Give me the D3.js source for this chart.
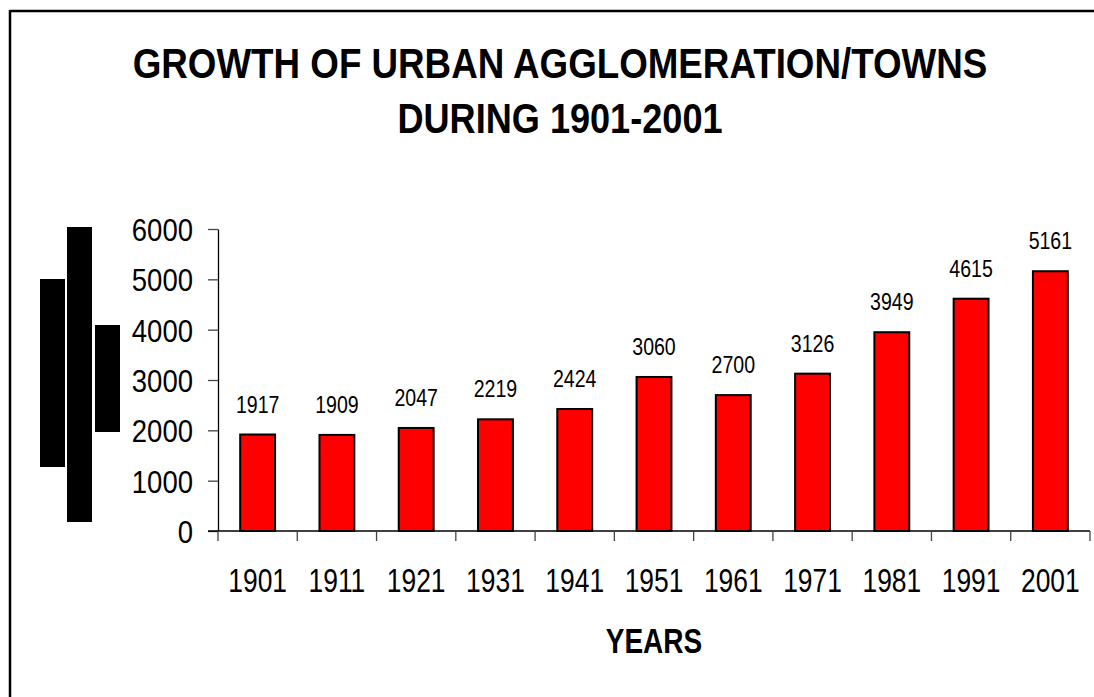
<!DOCTYPE html>
<html>
<head>
<meta charset="utf-8">
<script src="https://cdn.jsdelivr.net/npm/d3@7"></script>
<style>
  html, body { margin: 0; background: #fff; overflow: hidden; }
  svg { display: block; }
  text { font-family: "Liberation Sans", Arial, sans-serif; fill: #000; }
</style>
</head>
<body>
<div id="chart"></div>
<script>
// data
var years = ['1901', '1911', '1921', '1931', '1941', '1951', '1961', '1971', '1981', '1991', '2001'];
var towns = [1917, 1909, 2047, 2219, 2424, 3060, 2700, 3126, 3949, 4615, 5161];
var yTicks = [0, 1000, 2000, 3000, 4000, 5000, 6000];
var titleLines = ['GROWTH OF URBAN AGGLOMERATION/TOWNS', 'DURING 1901-2001'];

var W = 1094, H = 697;
var margin = {top: 229, right: 4, bottom: 166, left: 218};
var width = W - margin.left - margin.right,
    height = H - margin.top - margin.bottom;

var svg = d3.select('#chart')
    .append('svg')
    .attr('width', W)
    .attr('height', H);

// frame (only top and left edges show)
svg.append('line').attr('x1', 10).attr('x2', W).attr('y1', 11).attr('y2', 11)
    .attr('stroke', '#000').attr('stroke-width', 2.5);
svg.append('line').attr('x1', 10).attr('x2', 10).attr('y1', 10).attr('y2', H)
    .attr('stroke', '#000').attr('stroke-width', 2.5);

// title
svg.selectAll('.title')
    .data(titleLines)
    .enter()
    .append('text')
    .attr('class', 'title')
    .attr('transform', function(d, i) {
      return 'translate(560,' + (78 + i * 55) + ') scale(' + (i ? 0.86 : 0.875) + ',1)';
    })
    .attr('text-anchor', 'middle')
    .style('font-size', '42px')
    .style('font-weight', 'bold')
    .text(function(d) { return d; });

// garbled rotated y label, drawn as three black blocks
var blocks = [[40, 279, 25, 188], [67, 227, 25, 295], [95, 325, 25, 107]];
svg.selectAll('.block')
    .data(blocks)
    .enter()
    .append('rect')
    .attr('x', function(d) { return d[0]; })
    .attr('y', function(d) { return d[1]; })
    .attr('width', function(d) { return d[2]; })
    .attr('height', function(d) { return d[3]; })
    .attr('fill', '#000');

var g = svg.append('g')
    .attr('transform', 'translate(' + margin.left + ',' + margin.top + ')');

var x = d3.scaleBand().domain(years).range([0, width]).paddingInner(0.56).paddingOuter(0.28);
var xb = d3.scaleBand().domain(years).range([0, width]);
var y = d3.scaleLinear().domain([0, 6000]).range([height, 0]);

// y axis
var yAxis = g.append('g')
    .call(d3.axisLeft(y).tickValues(yTicks).tickFormat(d3.format('d'))
        .tickSize(10).tickSizeOuter(0).tickPadding(0));
yAxis.select('.domain').attr('stroke', '#000').attr('stroke-width', 1.3);
yAxis.selectAll('.tick line').attr('stroke', '#444').attr('stroke-width', 1.3);
yAxis.selectAll('.tick text')
    .attr('x', -25 / 0.86)
    .attr('dy', '0.36em')
    .attr('transform', 'scale(0.86,1)')
    .style('font-size', '32px')
    .attr('fill', '#000');

// x axis
var xAxis = g.append('g')
    .attr('transform', 'translate(0,' + height + ')')
    .call(d3.axisBottom(xb).tickSize(0).tickPadding(0));
xAxis.select('.domain').remove();
xAxis.selectAll('.tick text')
    .attr('y', 0)
    .attr('dy', 0)
    .attr('transform', 'translate(0,61) scale(0.8,1)')
    .style('font-size', '33px')
    .attr('fill', '#000');

g.append('line')
    .attr('x1', -10).attr('x2', width)
    .attr('y1', height).attr('y2', height)
    .attr('stroke', '#000').attr('stroke-width', 1.3);

g.selectAll('.xtick')
    .data(years.concat(['end']))
    .enter()
    .append('line')
    .attr('x1', function(d) { return d === 'end' ? width : xb(d); })
    .attr('x2', function(d) { return d === 'end' ? width : xb(d); })
    .attr('y1', height)
    .attr('y2', height + 10)
    .attr('stroke', '#444')
    .attr('stroke-width', 1.3);

// bars
g.selectAll('.bar')
    .data(towns)
    .enter()
    .append('rect')
    .attr('class', 'bar')
    .attr('x', function(d, i) { return x(years[i]); })
    .attr('y', function(d) { return y(d); })
    .attr('width', x.bandwidth())
    .attr('height', function(d) { return height - y(d); })
    .attr('fill', '#ff0000')
    .attr('stroke', '#000')
    .attr('stroke-width', 2);

// value labels
g.selectAll('.val')
    .data(towns)
    .enter()
    .append('text')
    .attr('class', 'val')
    .attr('transform', function(d, i) {
      return 'translate(' + (xb(years[i]) + xb.bandwidth() / 2) + ',' + (y(d) - 22) + ') scale(0.85,1)';
    })
    .attr('text-anchor', 'middle')
    .style('font-size', '23px')
    .text(function(d) { return d; });

// x title
svg.append('text')
    .attr('transform', 'translate(' + (margin.left + width / 2) + ',653) scale(0.8,1)')
    .attr('text-anchor', 'middle')
    .style('font-size', '35px')
    .style('font-weight', 'bold')
    .text('YEARS');
</script>
</body>
</html>
